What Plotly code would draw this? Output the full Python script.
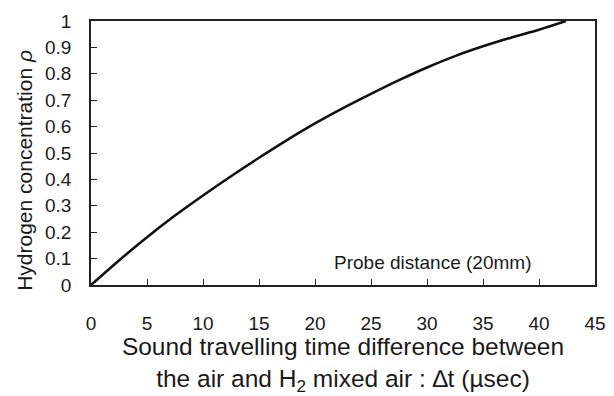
import plotly.graph_objects as go

# Data
dt_usec = [0, 2.5, 5, 7.5, 10, 12.5, 15, 17.5, 20, 22.5, 25, 27.5, 30, 32.5, 35, 37.5, 40, 42.4]
rho = [0, 0.093, 0.181, 0.263, 0.339, 0.412, 0.482, 0.549, 0.612, 0.670, 0.724, 0.776, 0.824, 0.867, 0.904, 0.937, 0.967, 1.0]

x_ticks = [0, 5, 10, 15, 20, 25, 30, 35, 40, 45]
y_ticks = [0, 0.1, 0.2, 0.3, 0.4, 0.5, 0.6, 0.7, 0.8, 0.9, 1]

FONT = "Liberation Sans, Arial, Helvetica, sans-serif"
TXT = "#1a1a1a"

fig = go.Figure()
fig.add_trace(go.Scatter(
    x=dt_usec, y=rho, mode="lines",
    line=dict(color="#111111", width=2.6, shape="spline", smoothing=0.8),
    showlegend=False, hoverinfo="skip",
))

fig.update_layout(
    template="none",
    width=606, height=388,
    margin=dict(l=83, r=19, t=13, b=111, autoexpand=False),
    paper_bgcolor="white", plot_bgcolor="white",
    font=dict(family=FONT, color=TXT, size=19),
    xaxis=dict(
        range=[0, 45], tickvals=x_ticks, automargin=False,
        showgrid=False, zeroline=False,
        showline=True, linecolor="#222222", linewidth=1.5, mirror=True,
        ticks="inside", ticklen=6, tickwidth=1, tickcolor="#222222",
        ticklabelstandoff=20,
        tickfont=dict(size=19, color=TXT),
        title=dict(
            text="Sound travelling time difference between<br>the air and H<sub>2</sub> mixed air : \u2206t (\u00b5sec)",
            font=dict(size=24.5, color=TXT), standoff=17,
        ),
    ),
    yaxis=dict(
        range=[0, 1], tickvals=y_ticks, automargin=False,
        showgrid=False, zeroline=False,
        showline=True, linecolor="#222222", linewidth=1.5, mirror=True,
        ticks="inside", ticklen=6, tickwidth=1, tickcolor="#222222",
        ticklabelstandoff=14,
        tickfont=dict(size=19, color=TXT),
    ),
    annotations=[
        dict(
            text="Hydrogen concentration <i>\u03c1</i>",
            xref="paper", yref="paper", x=-0.131, y=0.436,
            xanchor="center", yanchor="middle", textangle=-90,
            showarrow=False, font=dict(size=21, color=TXT),
        ),
        dict(
            text="Probe distance (20mm)", x=21.56, y=0.087,
            xref="x", yref="y", xanchor="left", yanchor="middle",
            showarrow=False, font=dict(size=19, color=TXT),
        ),
    ],
)

fig.write_html("out.html")
